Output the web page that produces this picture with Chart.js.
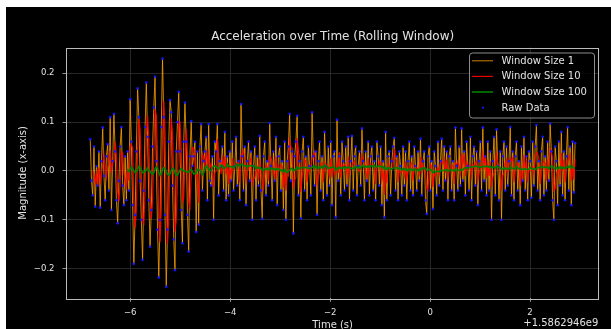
<!DOCTYPE html>
<html>
<head>
<meta charset="utf-8">
<script src="https://cdn.jsdelivr.net/npm/chart.js@4.4.1/dist/chart.umd.min.js"></script>
<style>
  body { margin: 0; background: #fff; }
  #wrap { position: absolute; left: 6px; top: 7px; width: 605px; height: 322px; background: #000; }
</style>
</head>
<body>
<div id="wrap"><canvas id="accelChart" width="605" height="322"></canvas></div>
<script>
// time axis of the trace (seconds, relative to the +1.5862946e9 offset)
const timeStart = -6.8;
const timeEnd = 2.9;

// raw x-axis acceleration, in thousandths (roughly 1 in 3 of the original samples)
const rawMilli = [
  65, -20, -50, 50, -73, 10, -30, 40, -75, 20, 89, -10, -60, 30, 55, -40, 110, -80, 20, 117,
  40, -60, -107, -20, 50, 90, -30, -70, 30, -60, 40, -40,
  147, 60, -70, -190, -90, 40, 169, 110, -20, -100, -182, -40, 90, 181, 70, -60, -155, -80,
  50, 130, 193, 20, -120, -218, -100, 90, 230, 110, -90, -237, -120, 60, 145, 120, -30, -140,
  -203, 40, 100, 162, 40, -80, -148, 60, 140, 60, -90, -165,
  30, 102, 10, 30, 60, -125, 40, -110, 50, 96, -40, 20, 40, 70, -60, 96, -20, -30, 30, -100,
  60, 40, 96, -50, 20, 10, 50, -40, 80, -60, 30,
  -50, 40, -20, 60, -40, 10, 70, -30, 20, -60,
  137, 30, -40, 50, -70, 20, 60, -20, 40, -100,
  10, 50, -60, 30, -30, 72, -40, -98, 30, 60,
  -50, 20, -30, 98, 10, -60, 40, -20, 70, -70,
  30, 50, -40, 20, -80, 60, -100, 20, 50, 117,
  -20, 40, -128, 30, 60, 113, -50, 20, -97, 40,
  70, -40, 30, -60, 50, 10, -50, 120, 30, -30,
  40, -90, 20, 60, -40, 30, -60, 80, 10, -50,
  50, -30, 60, -70, 30, 40, -95, 105, -20, 30,
  -50, 60, 20, -40, 50, -30, 70, -60, 20, 72,
  -40, 30, 50, -50, 10, 40, -30, 87, 20, -60,
  40, -20, 60, -50, 30, 50, -40, 20, -60, 60,
  30, -30, 50, -70, 20, -95, 80, -60, 30, 40,
  -50, 20, 50, 68, -40, 30, -60, 40, 10, -50,
  50, -30, 40, -60, 20, 60, -40, 30, -50, 50,
  10, -40, 40, -20, 66, -50, 20, 40, -60, -88,
  30, 50, -40, 20, -78, 40, 10, -50, 60, -30,
  20, 66, -40, 50, -20, 40, -60, 30, 50, -40,
  20, -60, 89, 10, -40, 50, -30, 87, -20, 40,
  -50, 60, 10, -40, 70, -60, 30, 50, -30, 40,
  -70, 20, 60, -40, 89, -20, 30, -50, 60, -40,
  40, -100, 20, 70, -50, 85, 10, -60, 40, -100,
  30, 60, -40, 50, -30, 20, 90, -50, 40, -60,
  30, 60, -40, 20, -70, 50, -20, 70, -40, 30,
  -60, 40, 20, -55, 60, -30, 50, 94, -40, 20,
  -60, 40, 70, -50, 30, -40, 60, -20, 97, 40,
  -60, -100, 50, 20, -70, 60, -30, 80, -50, 40,
  -60, 30, 90, -40, 50, -70, 60, -44, 57
];

// legend names and the rolling windows they stand for
const seriesNames = ['Window Size 1', 'Window Size 10', 'Window Size 100', 'Raw Data'];
// window lengths in samples of the thinned trace above (original 1, 10, 100)
const windowSpans = [1, 3, 31];

const xTicks = [-6, -4, -2, 0, 2];
const yTicks = [-0.2, -0.1, 0.0, 0.1, 0.2];

const titleText = 'Acceleration over Time (Rolling Window)';
const xTitle = 'Time (s)';
const yTitle = 'Magnitude (x-axis)';
const offsetText = '+1.5862946e9';

const textColor = '#e2e2e2';
const fontFamily = '"DejaVu Sans", sans-serif';

const rawValues = rawMilli.map(v => v / 1000);
const step = (timeEnd - timeStart) / (rawValues.length - 1);
const times = rawValues.map((v, i) => timeStart + i * step);

function rolling(values, span) {
  return values.map((v, i) => {
    if (i < span - 1) return null;
    let s = 0;
    for (let k = i - span + 1; k <= i; k++) s += values[k];
    return s / span;
  });
}

function toPoints(values) {
  return values.map((v, i) => ({ x: times[i], y: v }));
}

const lineColors = ['rgba(255,160,0,0.8)', 'rgba(255,0,0,0.9)', '#008000'];
const lineWidths = [1, 1.2, 1.6];
const rawColor = 'rgba(20,20,255,0.9)';

const datasets = windowSpans.map((span, k) => ({
  label: seriesNames[k],
  data: toPoints(rolling(rawValues, span)),
  borderColor: lineColors[k],
  borderWidth: lineWidths[k],
  pointRadius: 0,
  tension: 0,
  spanGaps: false,
  order: k === 2 ? 1 : 4 - k
}));
datasets.push({
  label: seriesNames[3],
  data: toPoints(rawValues),
  showLine: false,
  pointRadius: 1.4,
  pointBackgroundColor: rawColor,
  pointBorderWidth: 0,
  order: 2
});

const decor = {
  id: 'decor',
  afterDraw(chart) {
    const { ctx, chartArea: a } = chart;
    ctx.save();
    // frame
    ctx.strokeStyle = '#bbbbbb';
    ctx.lineWidth = 1;
    ctx.strokeRect(Math.round(a.left) + 0.5, Math.round(a.top) + 0.5,
      Math.round(a.right - a.left) - 1, Math.round(a.bottom - a.top));
    // titles
    ctx.fillStyle = textColor;
    ctx.textAlign = 'center';
    ctx.textBaseline = 'middle';
    ctx.font = '12px ' + fontFamily;
    ctx.fillText(titleText, (a.left + a.right) / 2, 29.5);
    ctx.font = '10px ' + fontFamily;
    ctx.fillText(xTitle, (a.left + a.right) / 2, 318);
    ctx.textAlign = 'right';
    ctx.fillText(offsetText, a.right - 1, 316);
    ctx.save();
    ctx.translate(17.5, (a.top + a.bottom) / 2);
    ctx.rotate(-Math.PI / 2);
    ctx.textAlign = 'center';
    ctx.fillText(yTitle, 0, 0);
    ctx.restore();

    // legend box, top right inside the plot
    const bx = 463, by = 45.5, bw = 125, bh = 65;
    ctx.beginPath();
    ctx.roundRect(bx + 0.5, by + 0.5, bw, bh, 3);
    ctx.fillStyle = 'rgba(0,0,0,0.8)';
    ctx.fill();
    ctx.strokeStyle = '#8c8c8c';
    ctx.stroke();
    ctx.font = '10px ' + fontFamily;
    ctx.textAlign = 'left';
    seriesNames.forEach((name, k) => {
      const y = 53.8 + k * 15.6;
      if (k < 3) {
        ctx.beginPath();
        ctx.moveTo(466, y);
        ctx.lineTo(487, y);
        ctx.strokeStyle = lineColors[k];
        ctx.lineWidth = lineWidths[k];
        ctx.stroke();
      } else {
        ctx.beginPath();
        ctx.arc(477, y, 1.2, 0, Math.PI * 2);
        ctx.fillStyle = rawColor;
        ctx.fill();
      }
      ctx.fillStyle = textColor;
      ctx.fillText(name, 495.5, y + 0.5);
    });
    ctx.restore();
  }
};

const ctx = document.getElementById('accelChart').getContext('2d');
new Chart(ctx, {
  type: 'line',
  data: { datasets: datasets },
  options: {
    responsive: false,
    animation: false,
    devicePixelRatio: 1,
    layout: { padding: { left: 0, right: 11.7, top: 40.5, bottom: 0 } },
    plugins: {
      legend: { display: false },
      tooltip: { enabled: false },
      title: { display: false }
    },
    scales: {
      x: {
        type: 'linear',
        min: -7.285,
        max: 3.385,
        afterFit: s => { s.height = 30.7; },
        afterBuildTicks: s => { s.ticks = xTicks.map(v => ({ value: v })); },
        border: { display: false },
        grid: { color: '#303030', lineWidth: 0.8, tickLength: 3.5, tickColor: '#bbbbbb', tickWidth: 0.8 },
        ticks: {
          color: textColor,
          padding: 6,
          maxRotation: 0,
          font: { family: fontFamily, size: 8.5 },
          callback: v => (v < 0 ? '\u2212' + Math.abs(v) : String(v))
        }
      },
      y: {
        type: 'linear',
        min: -0.2606,
        max: 0.2528,
        afterFit: s => { s.width = 60; },
        afterBuildTicks: s => { s.ticks = yTicks.map(v => ({ value: v })); },
        border: { display: false },
        grid: { color: '#303030', lineWidth: 0.8, tickLength: 3.5, tickColor: '#bbbbbb', tickWidth: 0.8 },
        ticks: {
          color: textColor,
          padding: 8,
          font: { family: fontFamily, size: 8.5 },
          callback: v => (v < 0 ? '\u2212' + Math.abs(v).toFixed(1) : v.toFixed(1))
        }
      }
    }
  },
  plugins: [decor]
});
</script>
</body>
</html>
